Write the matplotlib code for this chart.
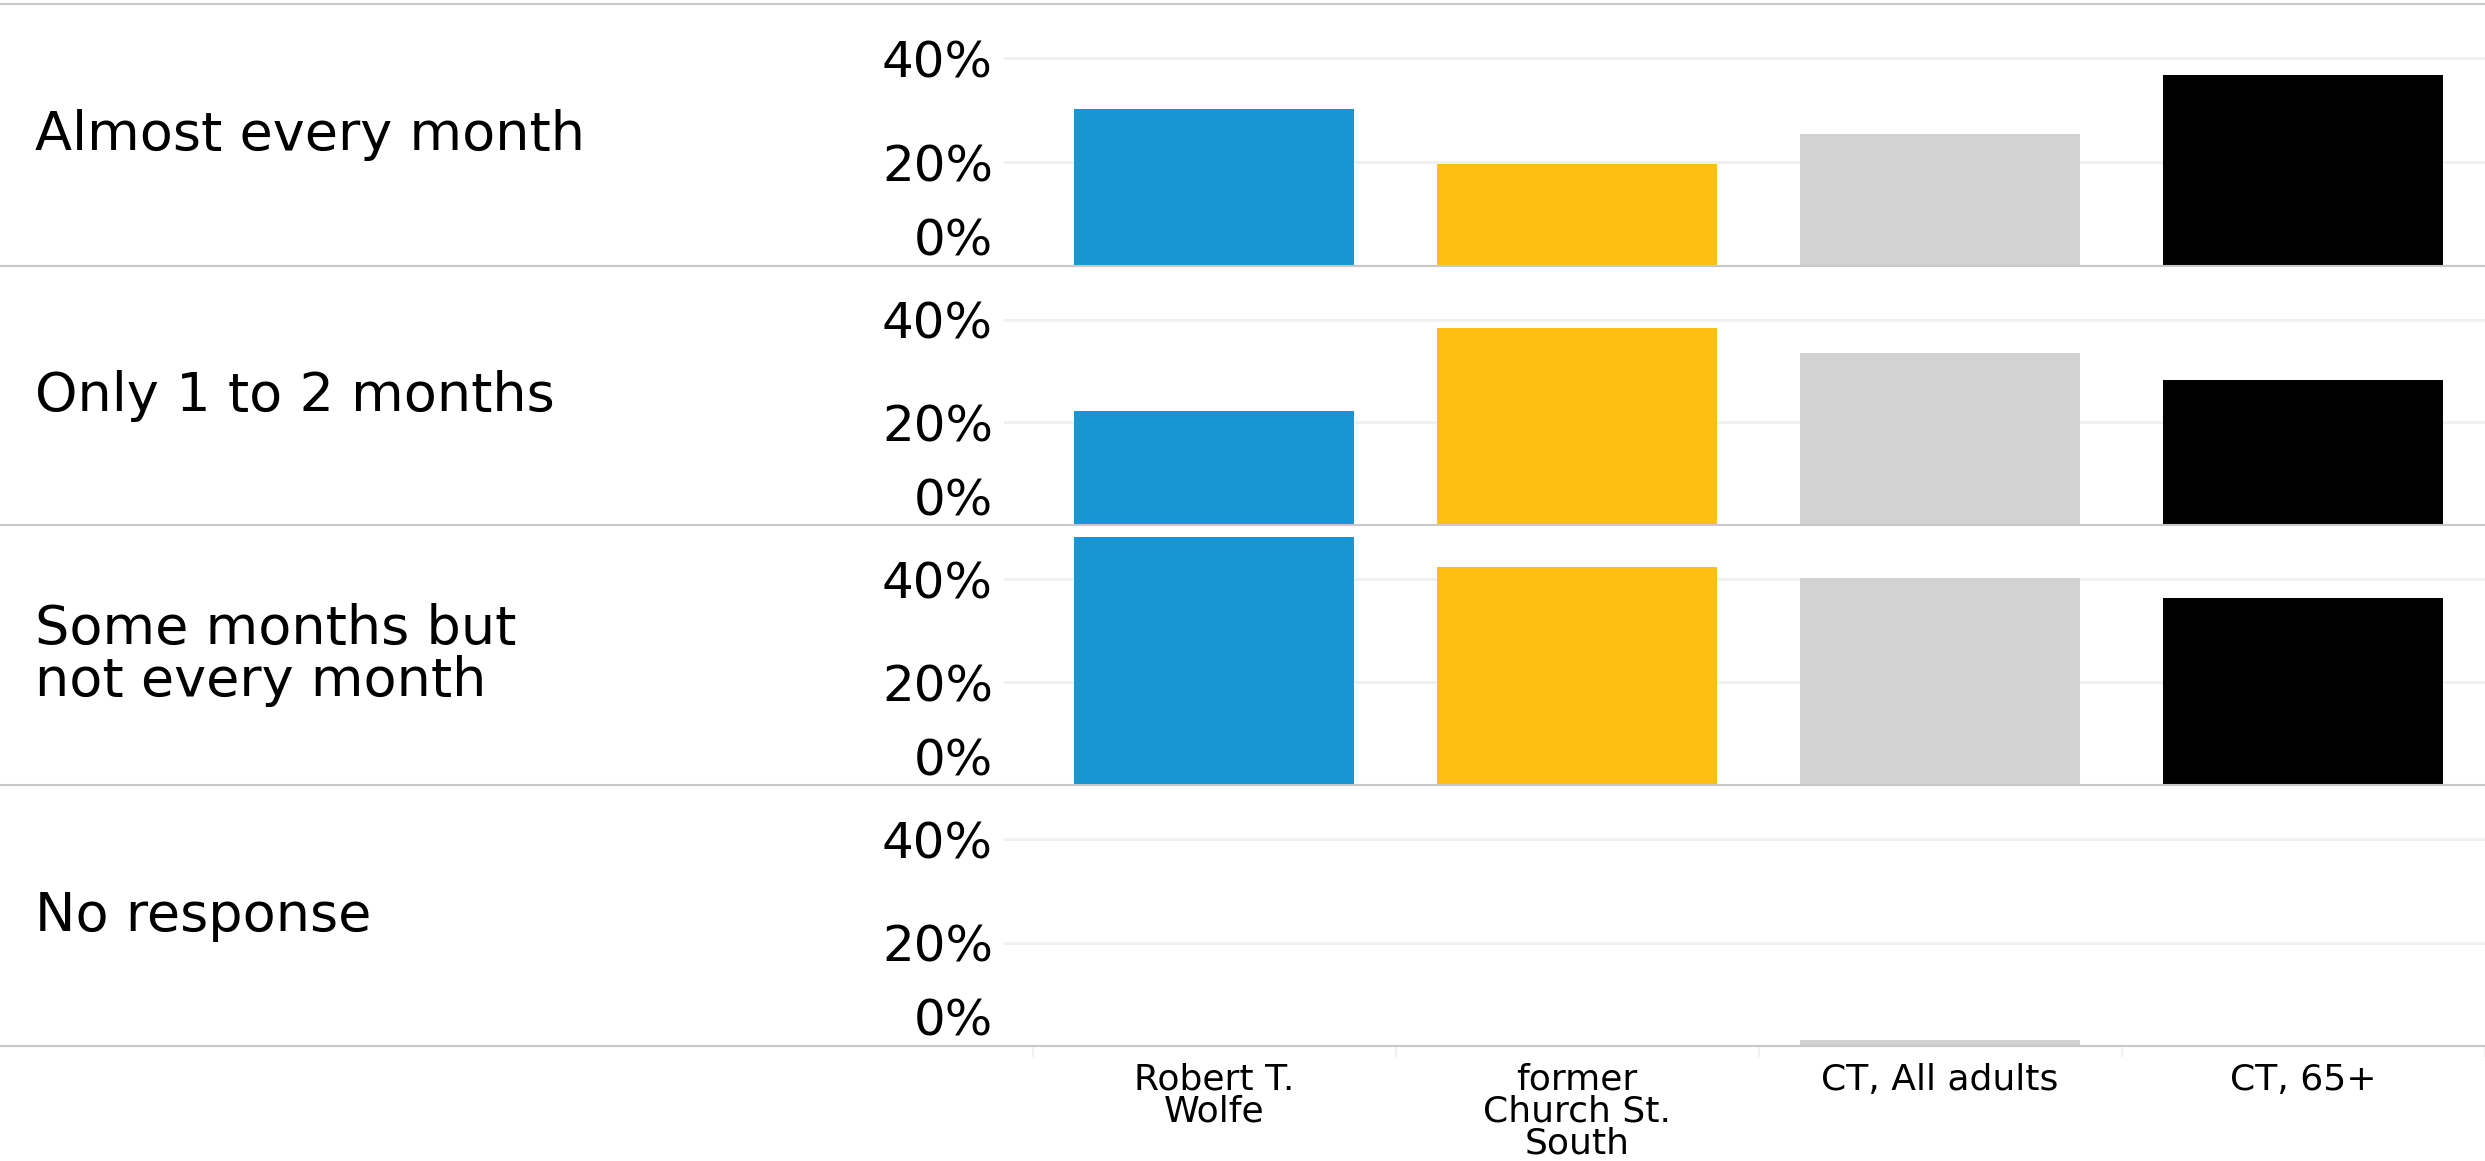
import matplotlib.pyplot as plt
from matplotlib.lines import Line2D
from matplotlib.ticker import PercentFormatter

plt.rcParams['font.family'] = ['DejaVu Sans']

# data (percent)
groups = ["Robert T.\nWolfe", "former\nChurch St.\nSouth", "CT, All adults", "CT, 65+"]
responses = ["Almost every month", "Only 1 to 2 months",
             "Some months but\nnot every month", "No response"]
robert_wolfe = [30.3, 22.3, 48.1, 0.0]
church_st_south = [19.6, 38.5, 42.3, 0.0]
ct_all_adults = [25.5, 33.6, 40.2, 1.2]
ct_65_plus = [36.8, 28.3, 36.4, 0.0]
bar_colors = ['#1696d2', '#fdbf11', '#d2d2d2', '#000000']

series = [robert_wolfe, church_st_south, ct_all_adults, ct_65_plus]

W, H = 2485, 1161
fig = plt.figure(figsize=(W / 100, H / 100), dpi=100)

# pixel rows of the four panels (top, bottom)
rows = [(4, 266), (266, 525), (525, 785), (785, 1046)]
ax_left, ax_right = 1004, 2485

for i, (top, bot) in enumerate(rows):
    ax = fig.add_axes([ax_left / W, 1 - bot / H, (ax_right - ax_left) / W, (bot - top) / H])
    vals = [s[i] for s in series]
    ax.bar(range(len(groups)), vals, width=0.77, color=bar_colors, zorder=3)
    ax.set_xlim(-0.579, 3.501)
    ax.set_ylim(0, 50.5)
    ax.set_yticks([0, 20, 40])
    ax.yaxis.set_major_formatter(PercentFormatter(decimals=0))
    ax.grid(axis='y', color='#f0f0f0', linewidth=2.0, zorder=0)
    ax.set_axisbelow(True)
    for sp in ax.spines.values():
        sp.set_visible(False)
    ax.tick_params(axis='y', length=0, pad=8, labelsize=36, labelcolor='black')
    # 0% label sits inside the panel, like the original
    ax.yaxis.get_major_ticks()[0].label1.set_verticalalignment('bottom')

    if i == len(rows) - 1:
        ax.set_xticks(range(len(groups)), groups)
        ax.set_xticks([-0.5, 0.5, 1.5, 2.5, 3.5], minor=True)
        ax.tick_params(axis='x', which='major', length=0, pad=12, labelsize=26)
        ax.tick_params(axis='x', which='minor', length=8, width=1.5, color='#f0f0f0')
        for lab in ax.get_xticklabels():
            lab.set_linespacing(0.92)
    else:
        ax.set_xticks([])

    fig.text(35 / W, 1 - (top + bot) / 2 / H, responses[i], ha='left', va='center',
             fontsize=39, linespacing=0.98)

# row separators span the whole width
for y in [4, 266, 525, 785, 1046]:
    fig.add_artist(Line2D([0, 1], [1 - y / H] * 2, color='#c8c8c8', linewidth=1.5))

fig.savefig('out.png', dpi=100, facecolor='white')
